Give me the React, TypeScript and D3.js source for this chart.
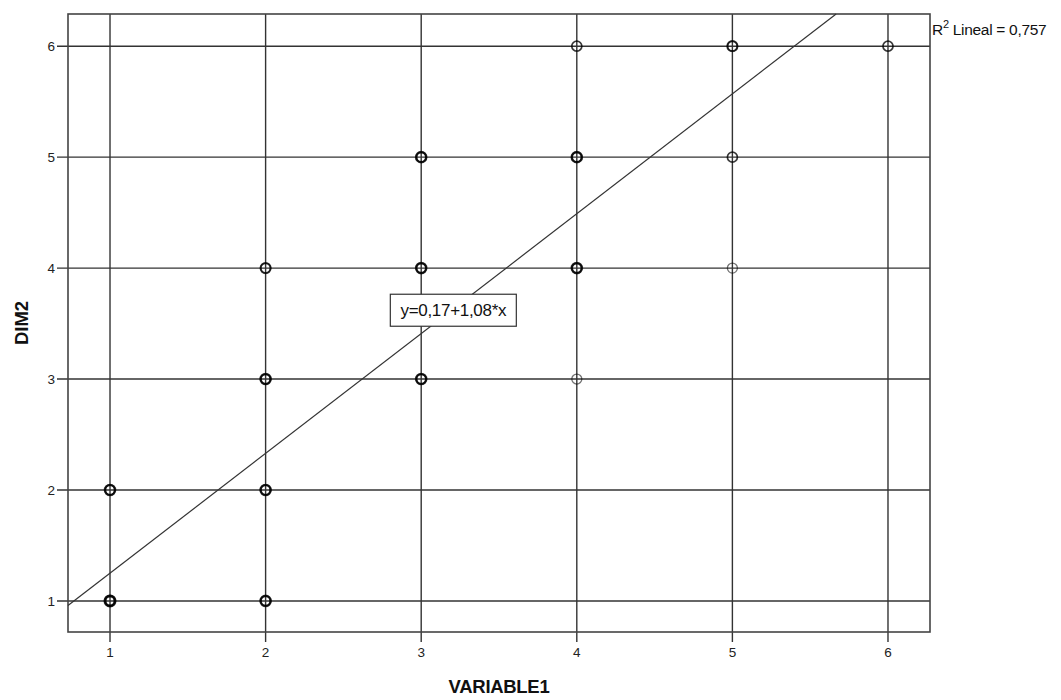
import React from "react";
import * as d3 from "d3";

const xTicks = [1, 2, 3, 4, 5, 6];
const yTicks = [1, 2, 3, 4, 5, 6];
const pointX = [1, 1, 2, 2, 2, 2, 3, 3, 3, 4, 4, 4, 4, 5, 5, 5, 6];
const pointY = [1, 2, 1, 2, 3, 4, 3, 4, 5, 3, 4, 5, 6, 4, 5, 6, 6];
const pointCount = [5, 4, 4, 4, 4, 3, 4, 4, 4, 1, 4, 4, 2, 1, 2, 3, 2];
const intercept = 0.17;
const slope = 1.08;
const equationLabel = "y=0,17+1,08*x";
const r2Value = "0,757";
const xTitle = "VARIABLE1";
const yTitle = "DIM2";

export default function App() {
  const left = 68, right = 930, top = 14, bottom = 632;
  const x = d3.scaleLinear().domain([0.73, 6.27]).range([left, right]);
  const y = d3.scaleLinear().domain([0.72, 6.29]).range([bottom, top]);
  const font = "Arial, 'Liberation Sans', sans-serif";

  const x0 = x.domain()[0];
  const yTop = y.domain()[1];
  const x1 = Math.min(x.domain()[1], (yTop - intercept) / slope);
  const line = d3.line<number>().x((d) => x(d)).y((d) => y(intercept + slope * d));
  const eqX = 3.2, eqY = 3.62;

  const circles: JSX.Element[] = [];
  pointX.forEach((px, i) => {
    for (let k = 0; k < pointCount[i]; k++) {
      circles.push(
        <circle key={`${i}-${k}`} cx={x(px)} cy={y(pointY[i])} r={5}
          fill="none" stroke="#000" strokeOpacity={0.55} strokeWidth={1.3 + k * 0.45} />
      );
    }
  });

  return (
    <svg width={1061} height={700} style={{ position: "absolute", left: 0, top: 0 }}
      fontFamily={font}>
      <rect x={0} y={0} width={1061} height={700} fill="#fff" />
      {xTicks.map((t) => (
        <line key={`gx${t}`} x1={x(t)} x2={x(t)} y1={top} y2={bottom + 10} stroke="#333" strokeWidth={1.4} />
      ))}
      {yTicks.map((t) => (
        <line key={`gy${t}`} x1={left - 11} x2={right} y1={y(t)} y2={y(t)} stroke="#333" strokeWidth={1.4} />
      ))}
      <rect x={left} y={top} width={right - left} height={bottom - top} fill="none" stroke="#444" strokeWidth={1.6} />
      {xTicks.map((t) => (
        <text key={`tx${t}`} x={x(t)} y={bottom + 25} textAnchor="middle" fontSize={13.5} fill="#222">{t}</text>
      ))}
      {yTicks.map((t) => (
        <text key={`ty${t}`} x={left - 13} y={y(t) + 5} textAnchor="end" fontSize={13.5} fill="#222">{t}</text>
      ))}
      <path d={line([x0, x1]) || ""} fill="none" stroke="#333" strokeWidth={1.2} />
      {circles}
      <g>
        <rect x={x(eqX) - 62} y={y(eqY) - 16} width={126} height={32} fill="#fff" stroke="#333" strokeWidth={1.2} />
        <text x={x(eqX) + 1} y={y(eqY) + 6} textAnchor="middle" fontSize={17} fill="#111" letterSpacing={-0.3}>{equationLabel}</text>
      </g>
      <text x={right + 2} y={35} fontSize={15.5} fill="#111" letterSpacing={-0.3}>
        R<tspan dy={-7} fontSize={11}>2</tspan><tspan dy={7}> Lineal = {r2Value}</tspan>
      </text>
      <text x={(left + right) / 2} y={693} textAnchor="middle" fontSize={18.5} fontWeight="bold" fill="#111" letterSpacing={-0.3}>{xTitle}</text>
      <text transform={`translate(28, ${(top + bottom) / 2}) rotate(-90)`} textAnchor="middle" fontSize={18.5} fontWeight="bold" fill="#111">{yTitle}</text>
    </svg>
  );
}
